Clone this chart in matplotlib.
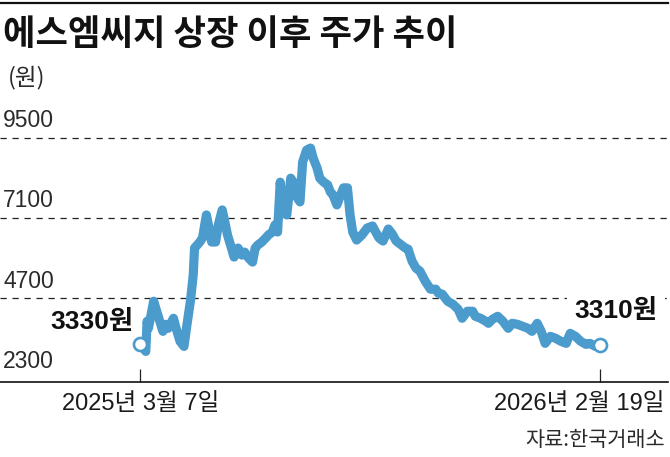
import matplotlib
matplotlib.use('Agg')
import matplotlib.pyplot as plt
from matplotlib import font_manager
from matplotlib.lines import Line2D
import matplotlib.transforms as mtransforms
import pandas as pd

# ---------------- data ----------------
title = '에스엠씨지 상장 이후 주가 추이'
unit_label = '(원)'
source_label = '자료:한국거래소'
start_date = '2025-03-07'
# calendar-day offsets from the listing date
days = [0, 4, 5, 6, 10, 13, 17, 19, 21, 25, 27, 30, 33,
        35, 38, 40, 41, 45, 47, 50, 52, 54, 57,
        59, 62, 64, 66, 69, 71, 74, 77, 79, 82,
        85, 87, 89, 92, 95, 97, 100, 102, 104,
        106, 108, 111, 114, 116, 119, 121, 123, 126, 129,
        131, 134, 136, 139, 142, 144, 146, 149, 151, 154,
        157, 159, 161, 164, 168, 172,
        176, 178, 181, 184, 188, 191, 194, 197, 201, 203,
        206, 209, 212, 216, 220, 224, 226, 229, 233, 237,
        241, 244, 248, 252, 254, 258, 262, 264, 267, 271,
        275, 279, 282, 286, 290, 294, 297, 301, 304, 307,
        311, 315, 319, 323, 326, 330, 334, 338, 341, 345, 349]
prices = [3330, 3110, 4010, 3800, 4610, 4220, 3710, 3920, 3800, 4100, 3800, 3410, 3260,
          3840, 4650, 5400, 6200, 6380, 6500, 7190, 6800, 6380, 6380,
          6890, 7340, 6980, 6590, 6200, 5930, 6200, 5990, 6080, 5900,
          5780, 6200, 6290, 6380, 6500, 6590, 6680, 6890, 6680,
          8170, 7280, 7190, 8290, 8170, 7700, 7580, 8770, 9130, 9190,
          8890, 8590, 8290, 8170, 8090, 7880, 7790, 7490, 7700, 8000,
          8000, 7190, 6680, 6440, 6590, 6800,
          6860, 6710, 6500, 6410, 6770, 6620, 6410, 6320, 6200, 6170,
          5810, 5600, 5510, 5210, 4970, 4970, 4850, 4820, 4610, 4520,
          4370, 4100, 4310, 4310, 4160, 4100, 4010, 3950, 4070, 4160,
          4010, 3800, 3950, 3920, 3860, 3800, 3710, 3950, 3710, 3350,
          3560, 3500, 3410, 3350, 3650, 3560, 3410, 3320, 3350, 3260, 3310]
y_ticks = [9500, 7100, 4700, 2300]
grid_values = [9500, 7100, 4700]
x_tick_labels = ['2025년 3월 7일', '2026년 2월 19일']
first_label = '3330원'
last_label = '3310원'

# ---------------- fonts ----------------
available = {f.name for f in font_manager.fontManager.ttflist}
def pick(*names):
    return [n for n in names if n in available]

cjk = pick('Noto Sans CJK KR', 'Noto Sans CJK JP', 'Noto Sans CJK SC', 'Noto Sans CJK TC')[:1]
fam_kr = cjk + ['DejaVu Sans']
fam_num = pick('Liberation Sans') + fam_kr
fam_mixed = pick('Liberation Sans') + fam_kr
has_narrow = 'Liberation Sans Narrow' in available
fam_narrow = pick('Liberation Sans Narrow', 'Liberation Sans')[:1] + fam_kr
plt.rcParams['font.family'] = fam_mixed

LINE = '#4b9bcc'
TXT = '#1a1a1a'

W, H = 670, 457
fig = plt.figure(figsize=(W / 100, H / 100), dpi=100)
fig.patch.set_facecolor('white')

dates = pd.Timestamp(start_date) + pd.to_timedelta(days, unit='D')

ax_bottom_px, ax_top_px = 381.5, 120.0
ax = fig.add_axes([0, 1 - ax_bottom_px / H, 668 / W, (ax_bottom_px - ax_top_px) / H])
ax.set_facecolor('none')

px_per_day = 460 / 349
x0 = pd.Timestamp(start_date)
ax.set_xlim(x0 - pd.Timedelta(days=140.5 / px_per_day),
            x0 + pd.Timedelta(days=349 + 67.5 / px_per_day))
ax.set_ylim(2210, 10029)

for s in ['top', 'right', 'left']:
    ax.spines[s].set_visible(False)
ax.spines['bottom'].set_linewidth(1.2)
ax.spines['bottom'].set_color('#111111')
ax.set_yticks([])

for g in grid_values:
    ax.axhline(g, color='#222222', lw=0.9, dashes=(5.0, 4.6), zorder=1)

for v in y_ticks:
    ax.annotate(f'{v}', xy=(0, v), xycoords=('axes fraction', 'data'),
                xytext=(3, 10.5), textcoords='offset pixels',
                ha='left', va='baseline', fontsize=16.5, color='#2a2a2a',
                family=fam_num)

ax.plot(dates, prices, color=LINE, lw=6.6, solid_joinstyle='round',
        solid_capstyle='round', zorder=3)
ax.plot([dates[0], dates[-1]], [prices[0], prices[-1]], 'o', ms=9.4,
        mfc='white', mec=LINE, mew=1.9, zorder=5)

big_size = 23.5 if has_narrow else 19
ax.annotate(first_label, xy=(dates[0], prices[0]), xytext=(-7, 22),
            textcoords='offset pixels', ha='right', va='center',
            fontsize=big_size, fontweight='bold', family=fam_narrow,
            color='#111111', zorder=4)
ax.annotate(last_label, xy=(dates[-1], prices[-1]), xytext=(-26, 34),
            textcoords='offset pixels', ha='left', va='center',
            fontsize=big_size, fontweight='bold', family=fam_narrow,
            color='#111111', zorder=2.5,
            bbox=dict(boxstyle='square,pad=0.3', fc='white', ec='none'))

ax.set_xticks([dates[0], dates[-1]])
ax.set_xticklabels(x_tick_labels)
ax.tick_params(axis='x', direction='in', length=9.4, width=0.9, color='#222222',
               pad=8, labelsize=17, labelcolor=TXT)
labels = ax.get_xticklabels()
for lab in labels:
    lab.set_family(fam_mixed)
labels[1].set_ha('right')
labels[1].set_transform(labels[1].get_transform() +
                        mtransforms.ScaledTranslation(64.5 / 100, 0, fig.dpi_scale_trans))

# title, unit, source
fig.add_artist(Line2D([0, 668 / W], [1 - 2.5 / H, 1 - 2.5 / H], color='#111111', lw=1.6))
fig.text(3 / W, 1 - 34 / H, title, ha='left', va='center', fontsize=25.4,
         fontweight='bold', family=fam_kr, color='#111111')
fig.text(8 / W, 1 - 78 / H, unit_label, ha='left', va='center', fontsize=17,
         family=fam_kr, color='#2a2a2a')
fig.text(665 / W, 1 - 440 / H, source_label, ha='right', va='center', fontsize=15,
         family=fam_kr, color='#2a2a2a')

fig.savefig('out.png', dpi=100, facecolor='white')
